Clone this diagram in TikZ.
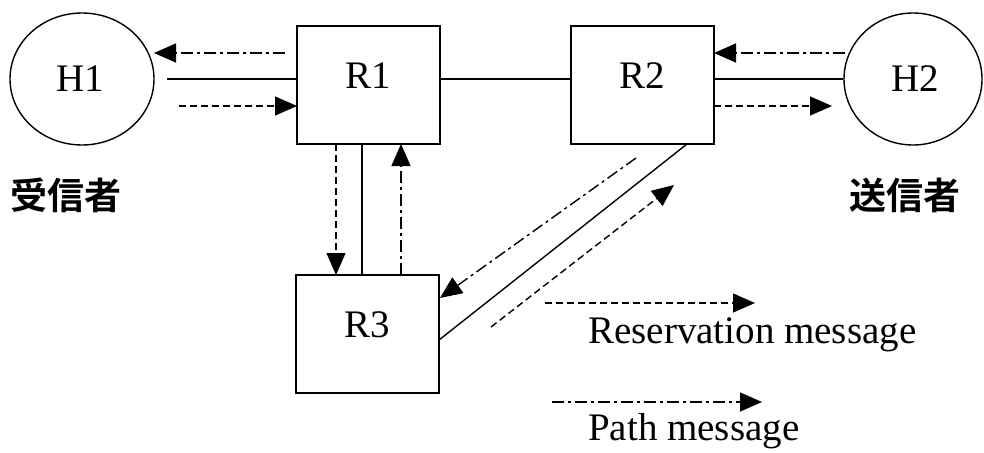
\documentclass[tikz,border=0pt]{standalone}
\usepackage{fontspec}
\setmainfont{Liberation Serif}
\newfontfamily\cjk{Noto Sans CJK JP Bold}
\usetikzlibrary{arrows.meta,shapes.geometric}

\tikzset{
  tip/.style={-{Triangle[length=22pt,width=19pt]}},
  link/.style={line width=1.4pt},
  resv/.style={line width=1.4pt, dash pattern=on 7pt off 4pt, tip},
  pathmsg/.style={line width=1.4pt, dash pattern=on 12pt off 4pt on 3pt off 4pt, tip},
  host/.style={draw, line width=1.4pt, ellipse, inner sep=0pt},
  router/.style={draw, line width=1.4pt, rectangle, minimum width=143pt, minimum height=118pt, inner sep=0pt},
  lbl/.style={font=\fontsize{39}{41}\selectfont, inner sep=0pt},
  jlbl/.style={font=\cjk\fontsize{37}{40}\selectfont, inner sep=0pt},
}

\begin{document}
\begin{tikzpicture}[x=1pt,y=-1pt]
\useasboundingbox (0,0) rectangle (984,452);

% hosts and routers
\node[host, minimum width=144pt, minimum height=132pt] (H1) at (82,79) {};
\node[host, minimum width=138pt, minimum height=132pt] (H2) at (913,79) {};
\node[router] (R1) at (368.5,85) {};
\node[router] (R2) at (642.5,85) {};
\node[router] (R3) at (367.5,334) {};

\node[lbl] (tH1) at (80,79) {H1};
\node[lbl] (tH2) at (915,79) {H2};
\node[lbl] (tR1) at (368,76) {R1};
\node[lbl] (tR2) at (642,76) {R2};
\node[lbl] (tR3) at (367,325) {R3};

\node[jlbl] (recv) at (66,195) {受信者};
\node[jlbl] (send) at (905,195) {送信者};

% connector end points
\coordinate (a1) at (285,53);  \coordinate (a2) at (154,53);
\coordinate (b1) at (167,79);
\coordinate (c1) at (179,106); \coordinate (c2) at (297,106);
\coordinate (d1) at (845,53);  \coordinate (d2) at (714,53);
\coordinate (e1) at (714,106); \coordinate (e2) at (832,106);
\coordinate (f1) at (336,144); \coordinate (f2) at (336,275);
\coordinate (g1) at (362,144); \coordinate (g2) at (362,275);
\coordinate (h1) at (401,275); \coordinate (h2) at (401,144);
\coordinate (i1) at (687,144); \coordinate (i2) at (439,340);
\coordinate (j1) at (636,158); \coordinate (j2) at (440,298);
\coordinate (k1) at (491,327); \coordinate (k2) at (674,185);

% H1 -- R1
\draw[pathmsg] (a1) -- (a2);
\draw[link] (b1) -- (b1 -| R1.west);
\draw[resv] (c1) -- (c2);

% R1 -- R2
\draw[link] (b1 -| R1.east) -- (b1 -| R2.west);

% R2 -- H2
\draw[pathmsg] (d1) -- (d2);
\draw[link] (b1 -| R2.east) -- (H2.west);
\draw[resv] (e1) -- (e2);

% R1 -- R3
\draw[resv] (f1) -- (f2);
\draw[link] (g1) -- (g2);
\draw[pathmsg] (h1) -- (h2);

% R2 -- R3
\draw[link] (i1) -- (i2);
\draw[pathmsg] (j1) -- (j2);
\draw[resv] (k1) -- (k2);

% legend
\coordinate (l1) at (545,303); \coordinate (l2) at (755,303);
\coordinate (m1) at (552,402); \coordinate (m2) at (762,402);
\draw[resv] (l1) -- (l2);
\draw[pathmsg] (m1) -- (m2);
\node[lbl, anchor=base west] (tresv) at (588,343) {Reservation message};
\node[lbl, anchor=base west] (tpath) at (588,440) {Path message};
\end{tikzpicture}
\end{document}
